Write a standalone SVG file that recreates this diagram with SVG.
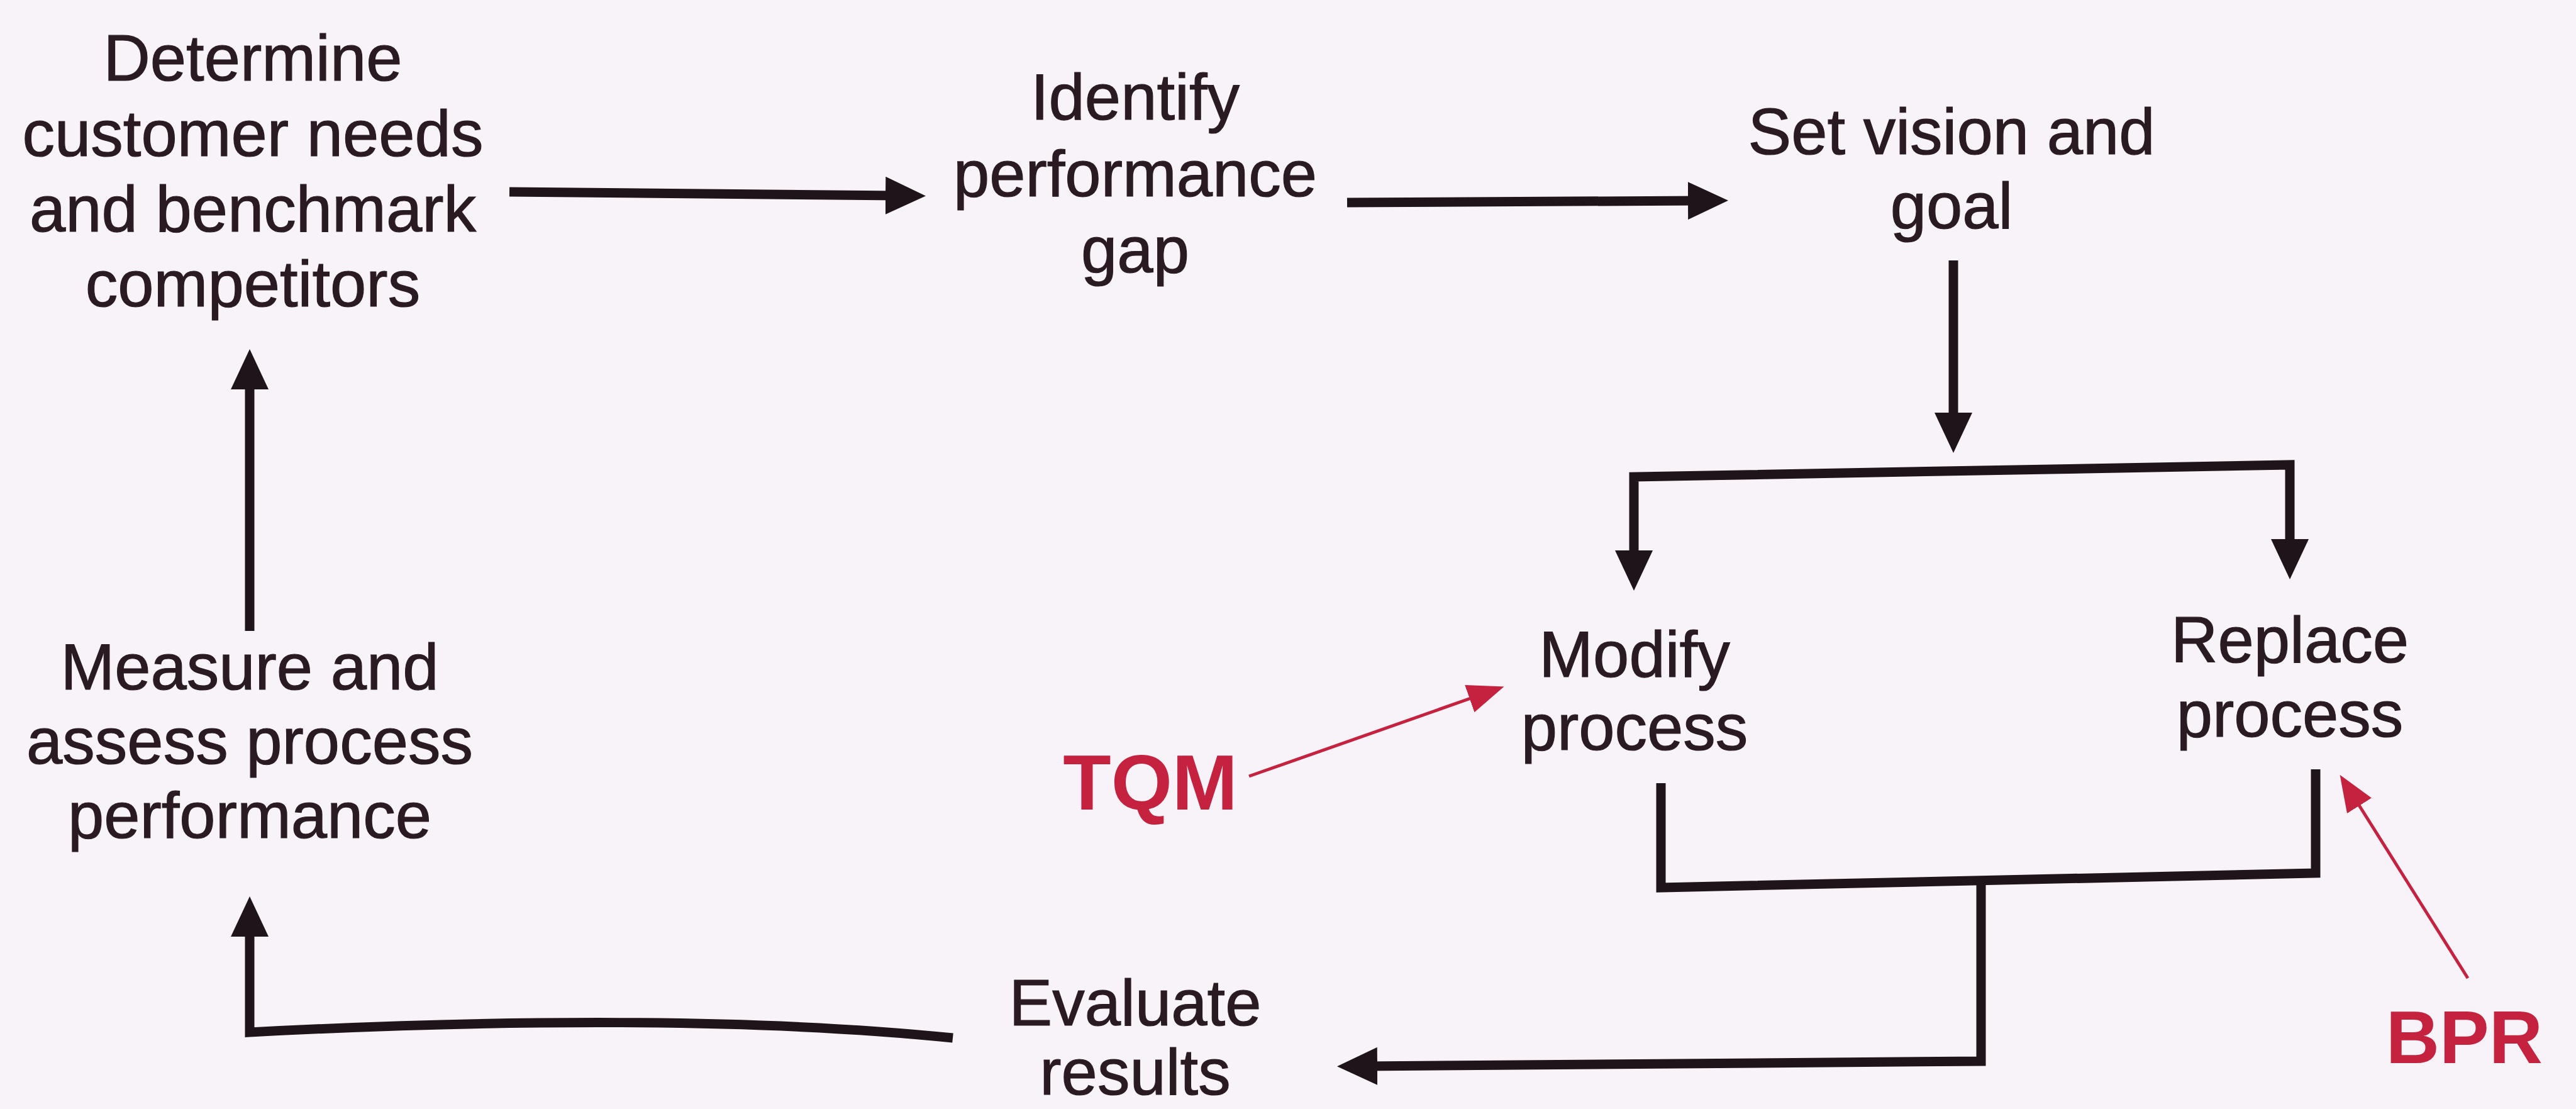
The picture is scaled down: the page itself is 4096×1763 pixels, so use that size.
<svg xmlns="http://www.w3.org/2000/svg" width="4096" height="1763" viewBox="0 0 4096 1763">
  <defs>
    <marker id="ah" viewBox="0 0 64 60" markerWidth="64" markerHeight="60" markerUnits="userSpaceOnUse" refX="20" refY="30" orient="auto-start-reverse">
      <path d="M0,0 L64,30 L0,60 Z" fill="#1f1419"/>
    </marker>
    <marker id="ahRed" viewBox="0 0 58 46" markerWidth="58" markerHeight="46" markerUnits="userSpaceOnUse" refX="14" refY="23" orient="auto">
      <path d="M0,0 L58,23 L0,46 Z" fill="#c4223f"/>
    </marker>
    <style>
      .lbl { font-family: "Liberation Sans", Arial, sans-serif; font-size: 103px; fill: #2a1b22; stroke: #2a1b22; stroke-width: 1.2; text-anchor: middle; }
      .tag { font-family: "Liberation Sans", Arial, sans-serif; font-weight: bold; fill: #c4223f; text-anchor: end; }
      .flow { fill: none; stroke: #1f1419; stroke-width: 15; stroke-linejoin: miter; stroke-linecap: butt; }
      .hint { fill: none; stroke: #c4223f; stroke-width: 5; }
    </style>
  </defs>

  <rect x="0" y="0" width="4096" height="1763" fill="#f8f3f8"/>

  <!-- connectors -->
  <g id="connectors">
    <path class="flow" d="M810,305 L1428,311" marker-end="url(#ah)"/>
    <path class="flow" d="M2142,322 L2704,319" marker-end="url(#ah)"/>
    <path class="flow" d="M3106,414 V676" marker-end="url(#ah)"/>
    <path class="flow" d="M2598,895 V758 L3641,739 V877" marker-start="url(#ah)" marker-end="url(#ah)"/>
    <path class="flow" d="M2641,1245 V1411 L3682,1388 V1223"/>
    <path class="flow" d="M3150,1400 V1687 L2170,1695" marker-end="url(#ah)"/>
    <path class="flow" d="M1515,1650 C1200,1618 800,1620 397,1641 V1469" marker-end="url(#ah)"/>
    <path class="flow" d="M397,1003 V599" marker-end="url(#ah)"/>
    <path class="hint" d="M1986,1234 L2350,1106" marker-end="url(#ahRed)"/>
    <path class="hint" d="M3924,1555 L3744,1269" marker-end="url(#ahRed)"/>
  </g>

  <!-- steps -->
  <g id="determine-needs">
    <text class="lbl" x="402" y="128">Determine</text>
    <text class="lbl" x="402" y="248">customer needs</text>
    <text class="lbl" x="402" y="368">and benchmark</text>
    <text class="lbl" x="402" y="487">competitors</text>
  </g>
  <g id="identify-gap">
    <text class="lbl" x="1805" y="190">Identify</text>
    <text class="lbl" x="1805" y="312">performance</text>
    <text class="lbl" x="1805" y="433">gap</text>
  </g>
  <g id="set-vision">
    <text class="lbl" x="3103" y="245">Set vision and</text>
    <text class="lbl" x="3103" y="363">goal</text>
  </g>
  <g id="modify-process">
    <text class="lbl" x="2599" y="1076">Modify</text>
    <text class="lbl" x="2599" y="1192">process</text>
  </g>
  <g id="replace-process">
    <text class="lbl" x="3641" y="1053">Replace</text>
    <text class="lbl" x="3641" y="1171">process</text>
  </g>
  <g id="evaluate-results">
    <text class="lbl" x="1805" y="1630">Evaluate</text>
    <text class="lbl" x="1805" y="1740">results</text>
  </g>
  <g id="measure-performance">
    <text class="lbl" x="397" y="1096">Measure and</text>
    <text class="lbl" x="397" y="1214">assess process</text>
    <text class="lbl" x="397" y="1332">performance</text>
  </g>
  <g id="tqm">
    <text class="tag" x="1968" y="1287" font-size="125">TQM</text>
  </g>
  <g id="bpr">
    <text class="tag" x="4043" y="1690" font-size="118">BPR</text>
  </g>
</svg>
